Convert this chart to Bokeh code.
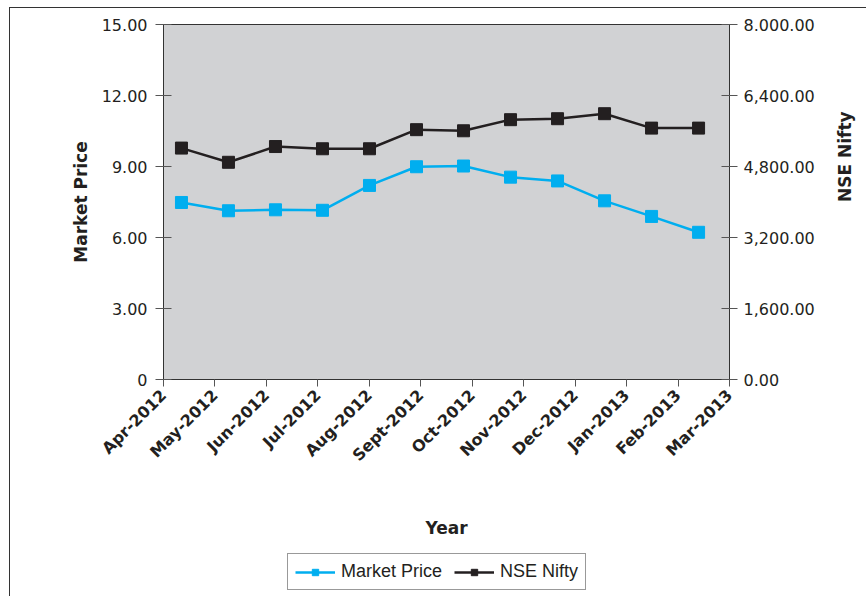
from bokeh.plotting import figure
from bokeh.layouts import column
from bokeh.models import (Range1d, LinearAxis, FixedTicker, Legend, LegendItem,
                          ColumnDataSource)
from bokeh.embed import file_html
from bokeh.resources import INLINE
import math

months = ["Apr-2012", "May-2012", "Jun-2012", "Jul-2012", "Aug-2012", "Sept-2012",
          "Oct-2012", "Nov-2012", "Dec-2012", "Jan-2013", "Feb-2013", "Mar-2013"]
market_price = [7.48, 7.13, 7.17, 7.15, 8.20, 8.99, 9.02, 8.55, 8.39, 7.55, 6.89, 6.22]
nse_nifty = [5215, 4895, 5250, 5200, 5200, 5630, 5605, 5855, 5877, 5990, 5665, 5665]

left_ticks = [0, 3, 6, 9, 12, 15]
left_labels = ["0", "3.00", "6.00", "9.00", "12.00", "15.00"]
right_ticks = [0, 1600, 3200, 4800, 6400, 8000]
right_labels = ["0.00", "1,600.00", "3,200.00", "4,800.00", "6,400.00", "8.000.00"]

FONT = "DejaVu Sans"
BLUE = "#00aeef"
BLACK = "#231f20"

idx = list(range(len(months)))
src = ColumnDataSource(dict(x=idx, mp=market_price, nn=nse_nifty))

p = figure(width=857, height=545, output_backend="svg", toolbar_location=None,
           x_range=Range1d(0, len(months) - 1), y_range=Range1d(0, 15),
           min_border_left=153, min_border_right=137, min_border_top=16,
           min_border_bottom=174, x_axis_location="below")
p.margin = (7, 0, 0, 9)
p.styles = {"border-left": "1px solid #333", "border-top": "1px solid #333"}
p.extra_x_ranges = {"pts": Range1d(-0.382, 11.658)}
p.extra_y_ranges = {"nifty": Range1d(0, 8000)}

p.background_fill_color = "#d1d2d4"
p.border_fill_color = "white"
p.outline_line_color = "#333333"
p.outline_line_width = 1
p.grid.visible = False

# x axis
xa = p.xaxis[0]
xa.ticker = FixedTicker(ticks=idx)
xa.major_label_overrides = {i: m for i, m in enumerate(months)}
xa.major_label_orientation = math.pi / 4
xa.major_label_text_font = FONT
xa.major_label_text_font_style = "bold"
xa.major_label_text_font_size = "16px"
xa.major_label_text_color = "#231f20"
xa.major_label_standoff = 6
xa.major_tick_out = 7
xa.major_tick_in = 0
xa.minor_tick_line_color = None
xa.axis_line_color = "#333333"
xa.major_tick_line_color = "#555555"
xa.axis_label = "Year"
xa.axis_label_text_font = FONT
xa.axis_label_text_font_style = "bold"
xa.axis_label_text_font_size = "17px"
xa.axis_label_text_color = "#231f20"
xa.axis_label_standoff = 44

# left axis
ya = p.yaxis[0]
ya.ticker = FixedTicker(ticks=left_ticks)
ya.major_label_overrides = dict(zip(left_ticks, left_labels))
ya.major_label_text_font = FONT
ya.major_label_text_font_size = "16px"
ya.major_label_text_color = "#231f20"
ya.major_label_standoff = 8
ya.major_tick_out = 8
ya.major_tick_in = 8
ya.minor_tick_line_color = None
ya.axis_line_color = "#333333"
ya.major_tick_line_color = "#555555"
ya.axis_label = "Market Price"
ya.axis_label_text_font = FONT
ya.axis_label_text_font_style = "bold"
ya.axis_label_text_font_size = "17px"
ya.axis_label_text_color = "#231f20"
ya.axis_label_standoff = 8

# right axis
ra = LinearAxis(y_range_name="nifty", ticker=FixedTicker(ticks=right_ticks))
ra.major_label_overrides = dict(zip(right_ticks, right_labels))
ra.major_label_text_font = FONT
ra.major_label_text_font_size = "16px"
ra.major_label_text_color = "#231f20"
ra.major_label_standoff = 6
ra.major_tick_out = 8
ra.major_tick_in = 8
ra.minor_tick_line_color = None
ra.axis_line_color = "#333333"
ra.major_tick_line_color = "#555555"
ra.axis_label = "NSE Nifty"
ra.axis_label_orientation = math.pi / 2
ra.axis_label_text_font = FONT
ra.axis_label_text_font_style = "bold"
ra.axis_label_text_font_size = "17px"
ra.axis_label_text_color = "#231f20"
ra.axis_label_standoff = 27
p.add_layout(ra, "right")

p.line("x", "mp", source=src, x_range_name="pts", line_color=BLUE, line_width=2.5)
p.scatter("x", "mp", source=src, x_range_name="pts", marker="square", size=12,
          fill_color=BLUE, line_color=BLUE)
p.line("x", "nn", source=src, x_range_name="pts", y_range_name="nifty",
       line_color=BLACK, line_width=2.5)
p.scatter("x", "nn", source=src, x_range_name="pts", y_range_name="nifty",
          marker="square", size=12, fill_color=BLACK, line_color=BLACK)

# legend strip below the chart (its own small canvas, so it is not clipped)
q = figure(width=857, height=44, output_backend="svg", toolbar_location=None,
           x_range=Range1d(100, 101), y_range=Range1d(100, 101),
           min_border=0, min_border_left=0, min_border_right=0,
           min_border_top=0, min_border_bottom=0)
q.margin = (0, 0, 0, 9)
q.styles = {"border-left": "1px solid #333"}
q.axis.visible = False
q.grid.visible = False
q.outline_line_color = None
q.background_fill_color = "white"
q.border_fill_color = "white"

g1 = q.line("x", "mp", source=src, line_color=BLUE, line_width=2.5)
s1 = q.scatter("x", "mp", source=src, marker="square", size=12,
               fill_color=BLUE, line_color=BLUE)
g2 = q.line("x", "nn", source=src, line_color=BLACK, line_width=2.5)
s2 = q.scatter("x", "nn", source=src, marker="square", size=12,
               fill_color=BLACK, line_color=BLACK)

legend = Legend(items=[LegendItem(label="Market Price", renderers=[g1, s1]),
                       LegendItem(label="NSE Nifty", renderers=[g2, s2])],
                orientation="horizontal", location=(124, 6),
                label_text_font="Liberation Sans", label_text_font_size="18px",
                label_text_color="#231f20", glyph_width=40, glyph_height=16,
                label_standoff=6, spacing=12, padding=7, margin=0,
                border_line_color="#333333", border_line_width=1,
                background_fill_color="white", background_fill_alpha=1)
q.add_layout(legend, "center")

layout = column(p, q, spacing=0)
open("out.html", "w").write(file_html(layout, INLINE))
